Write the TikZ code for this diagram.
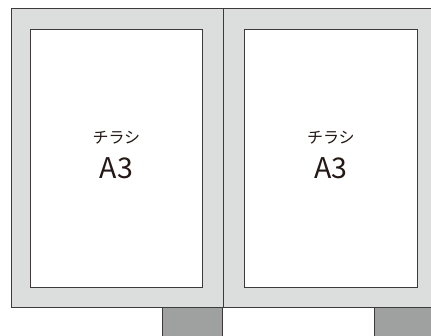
\documentclass[tikz,border=0pt]{standalone}
\usepackage{fontspec}
\setmainfont{Noto Sans CJK JP}
\usetikzlibrary{positioning}

\definecolor{linegray}{HTML}{3E3A39}
\definecolor{framegray}{HTML}{DCDDDD}
\definecolor{footgray}{HTML}{9FA0A0}
\definecolor{textgray}{HTML}{231815}

\tikzset{
  frame/.style={draw=linegray, line width=1pt, fill=framegray, inner sep=0pt,
    minimum width=211.7pt, minimum height=299pt, anchor=north west},
  sheet/.style={draw=linegray, line width=1.2pt, fill=white, inner sep=0pt,
    minimum width=172.5pt, minimum height=258pt, anchor=north west},
  foot/.style={draw=linegray, line width=1pt, fill=footgray, inner sep=0pt,
    minimum width=59.7pt, minimum height=35pt, anchor=north east},
  kana/.style={font=\fontsize{16pt}{19pt}\selectfont, text=textgray, inner sep=0pt},
  size/.style={font=\fontsize{28.5pt}{32pt}\selectfont, text=textgray, inner sep=0pt}
}

\begin{document}
\begin{tikzpicture}[x=1pt,y=-1pt]
\useasboundingbox (0,0) rectangle (431,335);
\clip (0,0) rectangle (431,335);
\fill[white] (0,0) rectangle (431,335);

\foreach \i / \x / \sx in {1/11/29.5, 2/222.7/244} {
  \node[foot] (b\i) at (\x+211.7,306) {};
  \node[frame] (f\i) at (\x,8) {};
  \node[sheet] (s\i) at (\sx,29) {};
  \node[kana] (t\i) at ([yshift=21pt]s\i.center) {チラシ};
  \node[size] (a\i) at ([yshift=-9.5pt]s\i.center) {A3};
}

\end{tikzpicture}
\end{document}
